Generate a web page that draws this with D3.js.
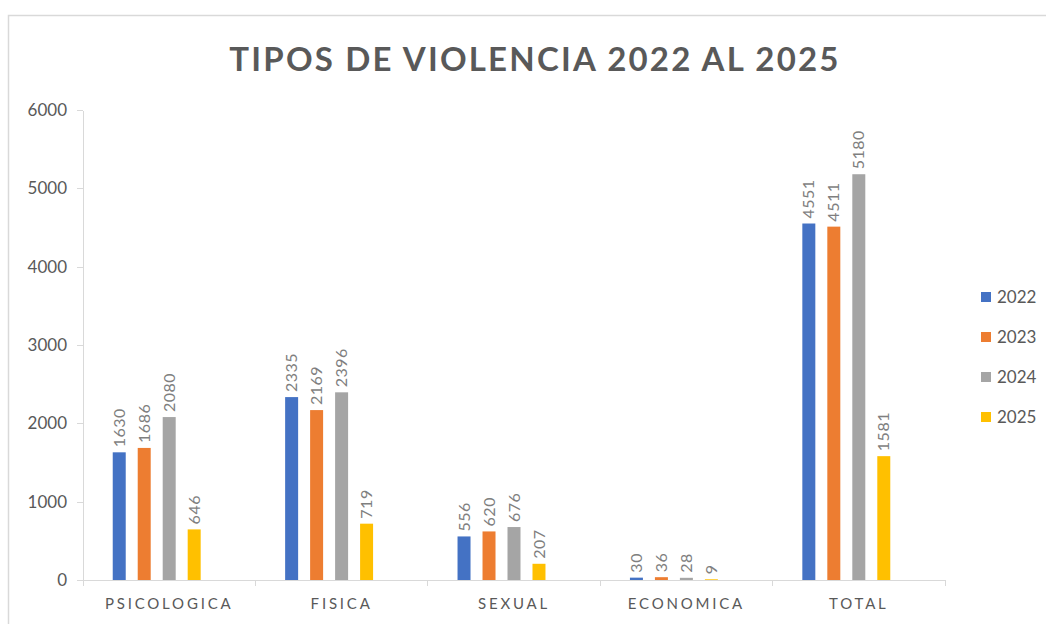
<!DOCTYPE html>
<html lang="es">
<head>
    <meta charset="UTF-8" />
    <title>Tipos de violencia 2022 al 2025</title>
    <script src="https://d3js.org/d3.v7.min.js"></script>
    <style>
        body { margin: 0; background: #fff; }
        svg { font-family: Lato, "Open Sans", sans-serif; }
        .axis path, .axis line { fill: none; stroke: #d9d9d9; stroke-width: 1.3; shape-rendering: crispEdges; }
        .axis text { fill: #595959; }
    </style>
</head>
<body>
    <script>
        var W = 1046, H = 624;
        var margin = {top: 110, bottom: 44, left: 83, right: 101};

        var categories = ["PSICOLOGICA", "FISICA", "SEXUAL", "ECONOMICA", "TOTAL"];
        var years = ["2022", "2023", "2024", "2025"];
        var v2022 = [1630, 2335, 556, 30, 4551];
        var v2023 = [1686, 2169, 620, 36, 4511];
        var v2024 = [2080, 2396, 676, 28, 5180];
        var v2025 = [646, 719, 207, 9, 1581];
        var yTicks = [0, 1000, 2000, 3000, 4000, 5000, 6000];
        var colors = ["#4472C4", "#ED7D31", "#A5A5A5", "#FFC000"];

        var series = [v2022, v2023, v2024, v2025];
        // excel leaves an empty fifth slot in every group
        var slots = years.concat(["vacío"]);

        var svg = d3.select("body").append("svg")
            .attr("width", W)
            .attr("height", H);

        // chart frame
        svg.append("path")
            .attr("d", "M8.5," + H + "V15.5H" + W)
            .attr("fill", "none")
            .attr("stroke", "#d9d9d9")
            .attr("stroke-width", 1.5);

        var x0 = d3.scaleBand()
            .domain(categories)
            .range([margin.left, W - margin.right]);
        var x1 = d3.scaleBand()
            .domain(slots)
            .range([0, x0.bandwidth()])
            .paddingInner(0.48)
            .paddingOuter(1.19);
        var y = d3.scaleLinear()
            .domain([0, 6000])
            .range([H - margin.bottom, margin.top]);

        // title
        svg.append("text")
            .attr("x", 535)
            .attr("y", 71)
            .attr("text-anchor", "middle")
            .attr("fill", "#595959")
            .attr("font-weight", "bold")
            .attr("font-size", 33)
            .attr("letter-spacing", 2.2)
            .text("TIPOS DE VIOLENCIA 2022 AL 2025");

        // axes
        var yAxis = svg.append("g")
            .attr("class", "axis")
            .attr("transform", "translate(" + margin.left + ",0)")
            .call(d3.axisLeft(y).tickValues(yTicks).tickFormat(d3.format("d"))
                .tickSize(6).tickSizeOuter(0).tickPadding(10));
        yAxis.attr("font-family", null);
        yAxis.selectAll("text").attr("font-size", 17);

        var xAxis = svg.append("g")
            .attr("class", "axis")
            .attr("transform", "translate(0," + y(0) + ")")
            .call(d3.axisBottom(x0).tickSize(0).tickSizeOuter(6).tickPadding(18));
        xAxis.attr("font-family", null);
        xAxis.selectAll("text")
            .attr("font-size", 15)
            .attr("letter-spacing", 2.8);
        xAxis.selectAll(".sep")
            .data(categories.slice(1))
            .enter()
            .append("line")
            .attr("class", "sep")
            .attr("x1", function(d){ return x0(d); })
            .attr("x2", function(d){ return x0(d); })
            .attr("y1", 0)
            .attr("y2", 6);

        // bars
        var groups = svg.selectAll(".grupo")
            .data(series)
            .enter()
            .append("g")
            .attr("class", "grupo")
            .attr("fill", function(d, i){ return colors[i]; });

        groups.selectAll("rect")
            .data(function(d, i){
                return d.map(function(v, j){ return {cat: categories[j], year: years[i], value: v}; });
            })
            .enter()
            .append("rect")
            .attr("x", function(d){ return x0(d.cat) + x1(d.year); })
            .attr("y", function(d){ return y(d.value); })
            .attr("width", x1.bandwidth())
            .attr("height", function(d){ return y(0) - y(d.value); });

        // data labels
        groups.selectAll("text")
            .data(function(d, i){
                return d.map(function(v, j){ return {cat: categories[j], year: years[i], value: v}; });
            })
            .enter()
            .append("text")
            .attr("transform", function(d){
                var cx = x0(d.cat) + x1(d.year) + x1.bandwidth() / 2;
                return "translate(" + cx + "," + (y(d.value) - 5) + ") rotate(-90)";
            })
            .attr("dy", "0.35em")
            .attr("fill", "#7f7f7f")
            .attr("font-size", 16)
            .attr("letter-spacing", 0.5)
            .text(function(d){ return d.value; });

        // legend
        var legend = svg.selectAll(".leyenda")
            .data(years)
            .enter()
            .append("g")
            .attr("class", "leyenda")
            .attr("transform", function(d, i){ return "translate(981," + (297 + i * 40) + ")"; });
        legend.append("rect")
            .attr("y", -5)
            .attr("width", 10)
            .attr("height", 10)
            .attr("fill", function(d, i){ return colors[i]; });
        legend.append("text")
            .attr("x", 16)
            .attr("dy", "0.36em")
            .attr("fill", "#595959")
            .attr("font-size", 17)
            .text(function(d){ return d; });
    </script>
</body>
</html>
